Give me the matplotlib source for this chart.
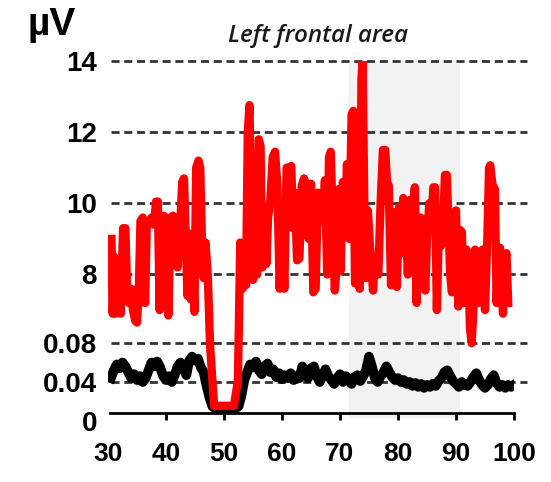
import numpy as np
import matplotlib
matplotlib.use('Agg')
import matplotlib.pyplot as plt

plt.rcParams['font.family'] = ['Liberation Sans', 'DejaVu Sans']
plt.rcParams['font.weight'] = 'bold'

# red series (upper scale, uV)
red_x = [30.6, 30.8, 31.1, 31.3, 31.6, 31.9, 32.2, 32.6, 33.0, 33.3, 33.6, 34.0, 34.3, 34.7,
         35.0, 35.3, 35.6, 36.0, 36.4, 36.7, 37.1, 37.5, 37.9, 38.3, 38.6, 38.9, 39.2, 39.6,
         40.0, 40.4, 40.8, 41.2, 41.6, 42.0, 42.4, 42.8, 43.1, 43.4, 43.7, 44.0, 44.3, 44.6,
         44.9, 45.2, 45.6, 45.9, 46.2, 46.5, 46.8, 47.2, 47.6, 48.3, 48.9, 51.7, 52.4, 52.8,
         53.2, 53.5, 53.8, 54.1, 54.4, 54.7, 55.0, 55.3, 55.7, 56.0, 56.3, 56.6, 57.0, 57.3,
         57.6, 58.0, 58.4, 58.8, 59.2, 59.6, 60.0, 60.4, 60.8, 61.2, 61.6, 61.9, 62.2, 62.6,
         63.0, 63.4, 63.8, 64.2, 64.6, 65.0, 65.4, 65.8, 66.2, 66.6, 67.0, 67.4, 67.8, 68.1,
         68.4, 68.8, 69.1, 69.5, 69.8, 70.1, 70.5, 70.9, 71.2, 71.6, 72.0, 72.3, 72.6, 73.0,
         73.4, 73.7, 73.9, 74.2, 74.5, 74.8, 75.2, 75.7, 76.0, 76.3, 76.6, 77.0, 77.4, 77.8,
         78.1, 78.4, 78.8, 79.2, 79.5, 79.8, 80.2, 80.6, 80.9, 81.3, 81.7, 82.1, 82.5, 82.9,
         83.2, 83.5, 83.9, 84.3, 84.7, 85.0, 85.4, 85.8, 86.1, 86.4, 86.7, 87.0, 87.4, 87.8,
         88.1, 88.4, 88.7, 89.0, 89.3, 89.6, 90.0, 90.4, 90.7, 91.0, 91.4, 91.8, 92.1, 92.4,
         92.7, 93.0, 93.3, 93.6, 93.8, 94.2, 94.6, 95.0, 95.4, 95.7, 95.9, 96.3, 96.7, 97.0,
         97.3, 97.6, 98.1, 98.4, 98.7, 99.0]
red_v = [9.0, 6.9, 8.5, 6.9, 7.0, 8.3, 6.9, 9.3, 9.3, 7.5, 7.2, 7.6, 7.0, 6.7,
         6.65, 7.5, 9.5, 9.6, 7.2, 9.5, 9.5, 9.6, 9.4, 10.05, 10.05, 7.0, 9.4, 9.65,
         9.6, 6.85, 9.6, 9.65, 9.3, 8.2, 9.2, 10.6, 10.7, 9.0, 7.4, 9.15, 7.3, 8.5,
         6.95, 11.0, 11.2, 11.0, 8.9, 7.9, 8.9, 8.0, 6.0, 4.3, 4.31, 4.31, 5.0, 8.9,
         7.6, 8.8, 7.7, 12.0, 12.76, 9.5, 7.85, 9.0, 8.0, 11.8, 11.6, 8.2, 9.8, 8.3,
         9.6, 10.1, 11.3, 11.45, 10.5, 7.6, 9.7, 7.6, 11.0, 11.0, 11.05, 9.3, 10.3, 8.4,
         8.45, 10.5, 10.7, 10.5, 9.0, 10.55, 7.5, 7.6, 10.3, 10.2, 9.5, 10.65, 8.0, 11.3,
         11.45, 9.3, 7.55, 8.4, 10.4, 8.1, 10.6, 9.5, 11.1, 9.0, 12.5, 12.6, 7.75, 9.5,
         7.6, 13.5, 14.0, 9.8, 7.9, 9.8, 8.7, 7.55, 8.5, 8.3, 8.0, 10.0, 11.5, 11.5,
         10.6, 10.5, 7.7, 9.5, 9.75, 7.65, 9.9, 8.6, 10.15, 9.7, 8.0, 10.1, 9.5, 10.45,
         7.2, 9.3, 9.6, 8.5, 7.55, 9.0, 10.0, 9.6, 10.45, 10.45, 7.0, 9.0, 8.8, 9.5,
         10.8, 10.8, 9.5, 8.0, 7.5, 9.15, 9.8, 7.1, 9.25, 9.2, 7.2, 8.7, 8.5, 6.5,
         6.07, 7.0, 8.7, 8.6, 7.2, 8.6, 8.7, 7.0, 9.0, 11.0, 11.07, 10.5, 10.4, 7.2,
         8.6, 8.75, 6.9, 8.4, 8.6, 7.2]

# black series (lower scale, uV), one value every 0.5 from 30.5 to 100
black_x = np.arange(30.5, 100.25, 0.5)
black_v = [0.044,
           0.052, 0.058, 0.054, 0.060, 0.056, 0.050,
           0.044, 0.048, 0.042, 0.046, 0.040, 0.044,
           0.052, 0.060, 0.056, 0.061, 0.055, 0.046,
           0.042, 0.046, 0.040, 0.047, 0.056, 0.060,
           0.055, 0.047, 0.062, 0.066, 0.062, 0.064,
           0.055, 0.050, 0.036, 0.024, 0.015, 0.013,
           0.013, 0.013, 0.013, 0.013, 0.013, 0.013,
           0.013, 0.015, 0.026, 0.042, 0.050, 0.058,
           0.055, 0.061, 0.052, 0.048, 0.056, 0.059,
           0.050, 0.053, 0.045, 0.049, 0.043, 0.047,
           0.044, 0.049, 0.042, 0.046, 0.044, 0.056,
           0.048, 0.044, 0.054, 0.056, 0.046, 0.040,
           0.047, 0.053, 0.046, 0.042, 0.038, 0.044,
           0.048, 0.040, 0.046, 0.042, 0.038, 0.045,
           0.047, 0.041, 0.046, 0.052, 0.066, 0.056,
           0.044, 0.040, 0.046, 0.050, 0.056, 0.050,
           0.045, 0.042, 0.044, 0.040, 0.042, 0.038,
           0.040, 0.036, 0.039, 0.035, 0.038, 0.034,
           0.037, 0.035, 0.038, 0.036, 0.041, 0.044,
           0.050, 0.052, 0.046, 0.041, 0.038, 0.035,
           0.040, 0.037, 0.036, 0.040, 0.045, 0.049,
           0.042, 0.037, 0.034, 0.037, 0.043, 0.047,
           0.039, 0.035, 0.037, 0.034, 0.037, 0.035,
           0.037]

upper_ticks = [8, 10, 12, 14]
lower_ticks = [0, 0.04, 0.08]
lower_labels = ['0', '0.04', '0.08']
x_ticks = [30, 40, 50, 60, 70, 80, 90, 100]
shade = (71.6, 90.7)

W, H = 551.0, 482.0
fig = plt.figure(figsize=(W / 100, H / 100), dpi=100)
rect = [108 / W, (H - 421) / H, (514 - 108) / W, (421 - 61) / H]

axb = fig.add_axes(rect)
axr = fig.add_axes(rect, sharex=axb)
axr.patch.set_alpha(0)

axb.set_xlim(30, 100)
axb.set_ylim(0, 0.08 * 360 / 78)
ppu = (274.5 - 61) / 6.0
axr.set_ylim(8 - (421 - 274.5) / ppu, 14)

axb.axvspan(shade[0], shade[1], ymin=0.008, ymax=1.0, color='#f2f2f2', lw=0, zorder=0)

dash = (0, (2.9, 1.7))
axb.hlines(lower_ticks[1:], 30.5, 102.3, colors='#333333', linestyles=dash, lw=2.0,
           clip_on=False, zorder=1)
axr.hlines(upper_ticks, 30.5, 102.3, colors='#333333', linestyles=dash, lw=2.0,
           clip_on=False, zorder=1)

axb.plot(black_x, black_v, color='black', lw=7, solid_joinstyle='round', zorder=3)
axr.plot(red_x, red_v, color='#ff0000', lw=6, solid_joinstyle='round', zorder=3)

for s in ['left', 'right', 'top']:
    axb.spines[s].set_visible(False)
for s in axr.spines.values():
    s.set_visible(False)
axb.spines['bottom'].set_position(('data', 0.008))
axb.spines['bottom'].set_bounds(30.3, 100)
axb.spines['bottom'].set_linewidth(2)

axb.set_xticks(x_ticks)
axb.tick_params(axis='x', length=5, width=2, pad=16, labelsize=19)
axb.xaxis.get_major_ticks()[0].tick1line.set_visible(False)
axr.tick_params(axis='x', bottom=False, labelbottom=False)

axb.set_yticks(lower_ticks, lower_labels)
axb.tick_params(axis='y', length=0, pad=8, labelsize=20)
axr.set_yticks(upper_ticks)
axr.tick_params(axis='y', length=0, pad=8, labelsize=20)

fig.text(318 / W, 1 - 36 / H, 'Left frontal area', ha='center', va='center',
         fontsize=17.5, style='italic', weight='semibold', family='Open Sans', color='#1a1a1a')
fig.text(28 / W, 1 - 35 / H, 'µV', ha='left', va='baseline', fontsize=28, weight='bold')

fig.savefig('out.png', dpi=100)
